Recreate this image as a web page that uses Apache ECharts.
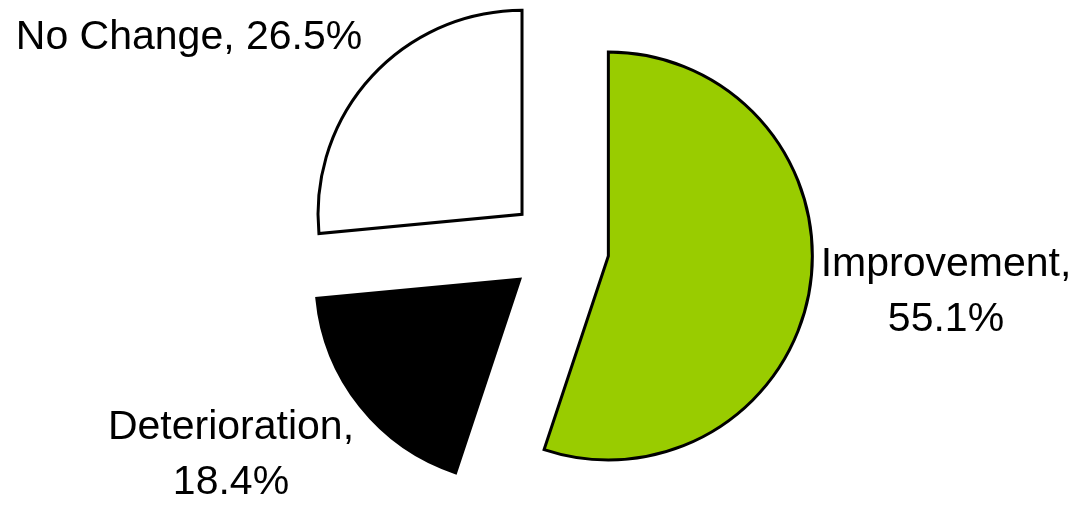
<!DOCTYPE html>
<html>
<head>
<meta charset="utf-8">
<script src="https://cdn.jsdelivr.net/npm/echarts@6/dist/echarts.min.js"></script>
<style>
html,body{margin:0;padding:0;background:#fff;}
#chart{width:1072px;height:505px;}
</style>
</head>
<body>
<div id="chart"></div>
<script>
const categories = ['Improvement', 'Deterioration', 'No Change'];
const values = [55.1, 18.4, 26.5];
const colors = ['#99CC00', '#000000', '#FFFFFF'];
const twoLine = [true, true, false];

const labelPos = [
  {x: 946, y: 292},
  {x: 231, y: 455},
  {x: 189, y: 38}
];

const chart = echarts.init(document.getElementById('chart'), null, {renderer: 'canvas'});
const data = categories.map((c, i) => ({
  name: c,
  value: values[i],
  selected: true,
  itemStyle: {color: colors[i]}
}));

const font = '"Liberation Sans", Arial, sans-serif';
const labelGraphics = categories.map((c, i) => ({
  type: 'text',
  x: labelPos[i].x,
  y: labelPos[i].y,
  silent: true,
  style: {
    text: twoLine[i] ? c + ',\n' + values[i] + '%' : c + ', ' + values[i] + '%',
    fill: '#000',
    font: '41px ' + font,
    fontSize: 41,
    fontFamily: font,
    lineHeight: 55,
    align: 'center',
    verticalAlign: 'middle'
  }
}));

chart.setOption({
  animation: false,
  backgroundColor: '#ffffff',
  graphic: labelGraphics,
  series: [{
    type: 'pie',
    center: [559, 248],
    radius: [0, 204],
    startAngle: 90,
    clockwise: true,
    selectedMode: 'multiple',
    selectedOffset: 50,
    avoidLabelOverlap: false,
    data: data,
    itemStyle: {borderColor: '#000', borderWidth: 3, borderJoin: 'miter'},
    emphasis: {disabled: true},
    select: {itemStyle: {borderColor: '#000', borderWidth: 3}},
    label: {show: false},
    labelLine: {show: false}
  }]
});
</script>
</body>
</html>
